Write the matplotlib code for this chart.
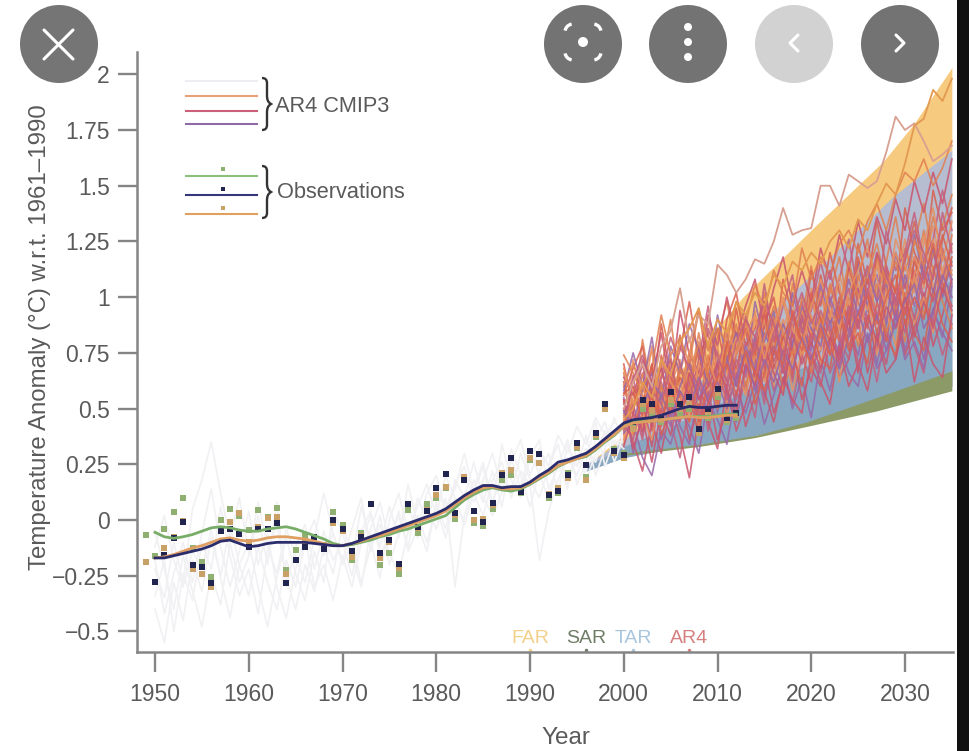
import matplotlib
matplotlib.use("Agg")
import matplotlib.pyplot as plt
from matplotlib.lines import Line2D
from matplotlib.patches import Arc, Circle, PathPatch, Rectangle
from matplotlib.path import Path
from matplotlib.transforms import Affine2D

plt.rcParams['font.family'] = ['Liberation Sans', 'DejaVu Sans']

y_ticks = [2, 1.75, 1.5, 1.25, 1, 0.75, 0.5, 0.25, 0, -0.25, -0.5]
y_labels = ['2', '1.75', '1.5', '1.25', '1', '0.75', '0.5', '0.25', '0', '\u22120.25', '\u22120.5']
x_ticks = [1950, 1960, 1970, 1980, 1990, 2000, 2010, 2020, 2030]

# projection envelopes
far_years = [1997, 2000, 2005, 2012.7, 2020.2, 2027.7, 2031, 2035]
far_upper = [0.28, 0.38, 0.62, 1.00, 1.31, 1.61, 1.78, 2.03]
far_lower = [0.24, 0.30, 0.40, 0.70, 1.00, 1.38, 1.50, 1.66]
tar_years = [1996, 2000, 2005, 2013, 2020, 2028.7, 2035]
tar_upper = [0.25, 0.36, 0.50, 0.82, 1.10, 1.45, 1.66]
tar_middle = [0.24, 0.33, 0.42, 0.58, 0.70, 0.90, 1.08]
tar_lower = [0.22, 0.28, 0.32, 0.37, 0.44, 0.53, 0.60]
sar_years = [2000, 2008, 2014, 2019.5, 2027, 2035]
sar_upper = [0.30, 0.34, 0.38, 0.44, 0.55, 0.67]
sar_lower = [0.29, 0.33, 0.37, 0.42, 0.49, 0.58]

hist_years = list(range(1950, 2001))
hist_01 = [-.22, -.35, -.10, -.28, .05, .18, .35, .12, -.08, .10, -.15, .02, -.20, .08, -.30, -.12, -.02, -.22, -.05, -.18, -.10, -.25, -.05, .04, -.15, -.08, .02, -.12, .10, .00, .14, .05, .16, .24, .08, .18, .30, .14, .26, .36, .20, .32, .24, .38, .30, .42, .34, .46, .38, .44, .40]
hist_02 = [-.40, -.55, -.28, -.45, -.18, -.32, -.08, -.25, -.02, -.20, -.34, -.12, -.28, -.40, -.18, -.30, -.10, .00, -.16, -.06, -.20, -.10, -.28, -.12, -.02, -.15, -.24, -.05, .02, -.10, .06, -.08, .10, -.02, .12, .02, .18, .26, .10, .22, .16, -.18, .04, .18, .28, .20, .32, .26, .40, .34, .36]
hist_03 = [-.12, .02, -.18, -.30, -.14, -.22, -.04, -.26, -.44, -.20, -.10, -.30, -.48, -.26, -.08, -.24, -.36, -.14, -.28, .04, -.06, -.18, .06, -.10, -.26, .00, .12, -.06, .06, .16, .02, .20, .10, -.02, .14, .26, .08, .20, .12, .30, .18, .10, .24, .34, .16, .28, .22, .36, .44, .30, .42]
hist_04 = [-.05, -.22, -.40, -.16, -.32, -.48, -.24, -.38, -.10, -.28, -.16, .08, -.12, -.24, -.04, -.16, -.28, -.08, .12, -.06, -.18, -.04, .10, -.14, .02, -.20, -.06, .08, -.08, .06, -.04, .10, -.30, .02, .18, .08, .22, .06, .28, .14, .32, .20, .10, .26, .14, .34, .18, .30, .40, .26, .38]
hist_05 = [-.34, -.18, -.50, -.24, -.36, -.10, -.22, .06, -.16, -.34, -.22, -.42, -.14, -.02, -.26, -.40, -.20, -.32, -.12, -.24, -.02, -.16, -.30, -.04, .08, -.10, .04, -.14, -.04, .12, .20, .04, .14, .30, .12, .24, .04, .34, .18, .10, .28, .36, .14, .24, .36, .16, .26, .44, .24, .36, .32]
hist_06 = [-.18, -.42, -.24, -.10, -.28, -.06, .14, -.12, -.30, -.14, .04, -.20, -.06, -.30, -.44, -.22, -.08, -.30, -.20, -.36, -.16, -.30, -.10, .02, -.12, .06, -.08, .16, -.02, -.14, .08, -.04, .18, .10, .26, .10, .02, .12, .32, .20, .06, .22, .30, .12, .34, .24, .38, .20, .32, .46, .34]

run_years = list(range(2000, 2036))
run_01 = [.46, .58, .42, .63, .49, .71, .55, .66, .50, .74, .61, .80, .66, .58, .83, .70, .92, .75, .88, .72, .99, .85, 1.05, .90, .82, 1.10, .95, 1.18, 1.02, .93, 1.22, 1.08, 1.30, 1.12, 1.02, 1.28]
run_02 = [.62, .40, .55, .33, .62, .47, .70, .58, .78, .52, .68, .60, .74, .85, .64, .92, .71, .83, .66, .90, .78, 1.02, .86, .74, .97, .88, 1.08, .92, .80, 1.05, .94, 1.12, .98, 1.20, 1.06, .96]
run_03 = [.38, .72, .50, .78, .60, .45, .66, .82, .58, .90, .70, .52, .77, .88, .68, .80, .60, .86, .98, .73, .84, 1.04, .80, .94, 1.12, .89, 1.00, 1.16, .90, 1.05, 1.26, 1.02, 1.14, 1.32, 1.10, 1.22]
run_04 = [.55, .30, .48, .58, .36, .55, .42, .34, .60, .48, .72, .56, .44, .68, .82, .55, .70, .60, .80, .93, .69, .76, .90, .68, .85, .74, .96, .70, .88, 1.00, .76, .92, .72, .95, .82, 1.05]
run_05 = [.70, .50, .66, .40, .74, .56, .83, .62, .48, .70, .86, .66, .95, .72, .60, .88, 1.00, .78, .64, .94, .82, 1.10, .92, .80, 1.14, .98, .86, 1.20, 1.04, .90, 1.16, 1.34, 1.10, .98, 1.26, 1.40]
run_06 = [.42, .65, .38, .52, .70, .44, .28, .52, .66, .40, .58, .74, .50, .62, .46, .76, .58, .68, .52, .74, .62, .84, .66, .78, .94, .70, .82, .62, .86, .72, .96, .78, .66, .90, .74, .88]
run_07 = [.60, .46, .81, .56, .68, .90, .60, .74, .95, .66, .82, .98, .76, .90, .70, 1.02, .84, .72, 1.06, .90, 1.14, .88, 1.02, 1.18, .94, 1.08, 1.26, 1.00, 1.16, 1.36, 1.12, 1.24, 1.42, 1.18, 1.32, 1.46]
run_08 = [.50, .35, .22, .44, .30, .52, .38, .19, .46, .58, .36, .50, .66, .42, .56, .70, .48, .62, .78, .54, .68, .60, .80, .64, .72, .90, .66, .84, .70, .94, .74, .86, 1.02, .78, .92, 1.08]
run_09 = [.34, .55, .64, .76, .48, .60, .72, .44, .68, .80, .54, .64, .86, .70, .94, .62, .78, .90, .70, .84, 1.04, .76, .92, 1.06, .84, .98, 1.14, .88, 1.02, 1.20, .96, 1.10, 1.28, 1.04, 1.18, 1.12]
run_10 = [.48, .44, .28, .20, .40, .34, .50, .42, .30, .54, .45, .34, .58, .48, .62, .43, .56, .70, .50, .64, .46, .72, .58, .80, .66, .60, .84, .68, .76, .92, .72, .80, .68, .94, .84, .76]
run_11 = [.56, .68, .78, .54, .88, .64, .76, .98, .72, .84, .62, .90, 1.02, .78, .86, .98, .74, 1.08, .92, .80, 1.12, .96, 1.20, 1.02, .90, 1.24, 1.06, 1.34, 1.14, 1.02, 1.40, 1.20, 1.10, 1.48, 1.30, 1.38]
run_12 = [.40, .52, .36, .68, .44, .60, .52, .72, .56, .44, .76, .62, .54, .80, .72, .52, .86, .74, .62, .92, .74, .66, .98, .82, .72, 1.04, .88, .76, 1.10, .94, .84, 1.18, 1.00, .88, 1.22, 1.06]
run_13 = [.66, .38, .60, .46, .56, .74, .46, .60, .84, .62, .50, .72, .84, .60, .76, .64, .82, .58, .72, .88, .66, .92, .74, .86, 1.00, .78, .90, 1.06, .84, .98, .80, 1.08, .92, 1.14, .98, .86]
run_14 = [.52, .48, .72, .62, .84, .58, .94, .74, .66, .92, .78, 1.00, .82, .96, 1.08, .86, 1.04, 1.18, .96, 1.12, .98, 1.22, 1.08, 1.28, 1.12, 1.34, 1.18, 1.36, 1.24, 1.44, 1.30, 1.52, 1.38, 1.56, 1.42, 1.62]
run_15 = [.36, .60, .46, .36, .58, .66, .48, .70, .42, .62, .78, .46, .68, .56, .74, .90, .64, .80, .58, .76, .92, .70, .84, .62, .90, .80, 1.02, .74, .94, .78, 1.08, .88, 1.00, .84, 1.12, .92]
run_16 = [.58, .75, .60, .82, .54, .78, .66, .88, .76, .60, .92, .72, .84, .66, .98, .80, .94, .68, 1.02, .86, .76, 1.06, .88, .98, .84, 1.16, .96, 1.10, .88, 1.20, 1.04, 1.28, 1.08, 1.22, 1.00, 1.16]
run_17 = [.44, .42, .52, .70, .38, .50, .64, .56, .38, .66, .52, .78, .60, .74, .52, .66, .90, .66, .76, .60, .86, .72, .68, .92, .76, .84, .70, .98, .82, .74, 1.02, .84, .76, 1.04, .88, .80]
run_18 = [.64, .56, .70, .48, .64, .82, .70, .54, .72, .96, .68, .84, .62, .92, .76, 1.06, .80, .96, 1.10, .84, .94, 1.16, .98, 1.08, 1.26, 1.02, 1.14, .98, 1.30, 1.12, 1.20, 1.38, 1.16, 1.26, 1.48, 1.30]
run_19 = [.47, .53, .60, .68, .92, .74, .82, .70, .94, .76, .86, .80, .98, .88, 1.06, .94, 1.12, 1.02, .96, 1.22, 1.08, 1.18, 1.10, 1.24, 1.30, 1.20, 1.34, 1.42, 1.30, 1.46, 1.56, 1.52, 1.62, 1.50, 1.58, 1.70]
run_20 = [.54, .32, .46, .26, .50, .38, .58, .36, .52, .44, .32, .60, .40, .52, .68, .58, .44, .64, .54, .48, .74, .62, .52, .78, .60, .70, .58, .82, .66, .72, .90, .62, .82, .70, .64, .92]
run_21 = [.50, .62, .70, .60, .78, .85, 1.04, .80, .92, .88, 1.145, 1.10, 1.02, 1.08, 1.17, 1.15, 1.25, 1.40, 1.28, 1.30, 1.31, 1.50, 1.50, 1.41, 1.55, 1.52, 1.49, 1.52, 1.65, 1.81, 1.75, 1.78, 1.70, 1.61, 1.64, 1.68]
run_22 = [.45, .50, .62, .55, .72, .65, .80, .86, .95, .78, .90, .84, .98, .92, 1.02, .96, 1.10, 1.05, 1.16, 1.12, 1.20, 1.15, 1.25, 1.30, 1.22, 1.35, 1.30, 1.42, 1.51, 1.46, 1.60, 1.77, 1.80, 1.93, 1.88, 1.98]
run_23 = [.68, .52, .60, .47, .66, .55, .62, .48, .70, .58, .74, .66, .82, .70, .90, .76, .86, .98, .82, .94, .84, 1.02, .90, 1.10, .96, 1.06, .94, 1.14, 1.04, 1.20, 1.08, 1.18, 1.04, 1.26, 1.12, 1.24]
run_24 = [.39, .44, .58, .66, .52, .42, .60, .70, .54, .64, .48, .72, .60, .78, .68, .84, .74, .88, .78, .96, .86, .78, 1.00, .88, 1.08, .92, 1.12, .98, 1.06, .90, 1.10, .96, 1.16, 1.02, 1.20, 1.08]
run_25 = [.57, .60, .50, .70, .42, .64, .56, .44, .62, .72, .56, .80, .68, .86, .74, .94, .68, .82, .92, .76, 1.02, .90, .80, 1.00, .88, 1.18, 1.00, .88, 1.12, 1.02, .92, 1.16, 1.06, 1.24, 1.02, 1.18]
run_26 = [.43, .36, .54, .44, .64, .72, .50, .62, .46, .56, .66, .54, .72, .64, .80, .70, .78, .66, .86, .98, .80, .94, .84, .70, .96, .86, 1.04, .90, 1.14, .96, 1.06, .90, 1.12, .98, 1.08, 1.24]
run_27 = [.74, .66, .56, .46, .60, .50, .68, .58, .80, .64, .50, .76, .88, .72, .62, .82, .96, .84, .74, 1.00, .90, .82, 1.06, .94, 1.16, 1.00, 1.10, 1.24, 1.06, 1.16, .98, 1.26, 1.14, 1.36, 1.20, 1.10]
run_28 = [.33, .48, .40, .58, .68, .52, .44, .66, .54, .60, .70, .58, .48, .70, .60, .78, .66, .56, .84, .70, .80, .68, .82, .72, .90, .66, .92, .80, .96, .86, 1.00, .82, .98, .86, 1.04, .94]
run_29 = [.61, .70, .60, .50, .72, .62, .52, .76, .64, .72, .60, .86, .74, .84, .92, .72, .88, 1.00, .86, .78, .96, 1.08, .94, .86, 1.02, 1.12, 1.22, 1.08, .96, 1.26, 1.14, 1.04, 1.24, 1.40, 1.16, 1.34]
run_30 = [.49, .41, .50, .62, .56, .46, .58, .50, .64, .54, .62, .50, .64, .76, .58, .72, .62, .76, .68, .82, .72, .88, .76, .68, .82, .94, .80, .92, .76, .88, .98, 1.06, .86, .94, 1.10, 1.00]
run_31 = [.53, .57, .47, .55, .44, .58, .48, .58, .44, .52, .64, .70, .56, .76, .66, .58, .76, .70, .94, .80, .70, .86, .74, .96, .78, .92, 1.02, .84, 1.00, 1.10, .88, 1.00, .90, 1.10, 1.28, 1.14]
run_32 = [.41, .63, .74, .58, .52, .68, .78, .68, .60, .86, .74, .62, .80, .90, .82, .98, .88, .74, .90, 1.02, .88, .98, 1.12, .92, 1.04, .86, 1.02, 1.20, 1.10, .98, 1.18, 1.30, 1.20, 1.08, 1.38, 1.20]

obs_years = list(range(1950, 2013))
smooth_blue = [-.17, -.17, -.16, -.15, -.14, -.13, -.115, -.095, -.09, -.105, -.12, -.115, -.105, -.10, -.10, -.10, -.10, -.105, -.11, -.115, -.115, -.105, -.09, -.075, -.06, -.045, -.03, -.015, .00, .015, .03, .05, .08, .11, .135, .155, .155, .145, .15, .15, .17, .20, .225, .26, .27, .285, .30, .33, .365, .40, .435, .45, .455, .46, .47, .485, .50, .51, .505, .505, .51, .515, .515]
smooth_orange = [-.17, -.165, -.155, -.14, -.125, -.115, -.10, -.085, -.08, -.09, -.095, -.09, -.08, -.075, -.075, -.08, -.085, -.095, -.105, -.115, -.115, -.105, -.095, -.08, -.07, -.055, -.04, -.025, -.01, .005, .02, .04, .07, .10, .125, .145, .15, .14, .14, .145, .165, .19, .215, .245, .26, .275, .29, .32, .355, .385, .42, .435, .44, .445, .45, .455, .46, .465, .46, .46, .465, .47, .47]
smooth_green = [-.055, -.075, -.082, -.075, -.065, -.05, -.035, -.03, -.035, -.045, -.05, -.05, -.04, -.035, -.03, -.04, -.055, -.07, -.085, -.105, -.115, -.11, -.10, -.09, -.075, -.065, -.05, -.04, -.025, -.01, .005, .02, .055, .09, .115, .135, .145, .135, .13, .14, .16, .185, .21, .24, .26, .275, .285, .315, .35, .38, .42, .44, .445, .445, .45, .455, .46, .465, .465, .465, .47, .475, .475]

dot_years_dark = list(range(1950, 2013))
dots_dark = [-.276, -.157, -.08, -.01, -.2, -.21, -.284, -.05, -.04, -.064, -.12, -.04, -.04, -.015, -.284, -.18, -.12, -.075, -.13, .0, -.04, -.14, -.075, .07, -.15, -.09, -.195, .07, -.03, .04, .146, .206, .03, .18, .04, -.007, .075, .2, .277, .127, .31, .295, .112, .13, .2, .344, .247, .389, .52, .31, .29, .44, .54, .52, .46, .575, .52, .55, .41, .5, .59, .46, .48]
dot_years_obs = list(range(1949, 2013))
dots_green = [-.067, -.16, -.04, .037, .10, -.127, -.187, -.255, .0, .05, .02, -.045, .045, .015, .055, -.224, -.135, -.07, -.075, -.11, .035, -.02, -.18, -.06, .07, -.2, -.15, -.24, .045, -.06, .07, .097, .142, .003, .178, -.015, -.027, .05, .18, .202, .12, .27, .257, .1, .12, .21, .322, .195, .374, .516, .32, .30, .42, .50, .47, .44, .52, .48, .50, .40, .46, .55, .44, .46]
dots_orange = [-.19, -.276, -.127, -.075, -.005, -.22, -.24, -.30, -.05, -.007, .03, -.097, -.03, .007, .015, -.24, -.18, -.105, -.09, -.127, -.015, -.05, -.165, -.07, .07, -.17, -.098, -.217, .07, -.037, .045, .112, .15, .022, .194, -.0, .003, .068, .21, .225, .142, .28, .257, .117, .142, .19, .326, .18, .38, .50, .30, .28, .41, .52, .49, .45, .54, .50, .52, .39, .47, .57, .45, .47]

report_names = ['FAR', 'SAR', 'TAR', 'AR4']
report_years = [1990, 1996, 2001, 2007]

fig = plt.figure(figsize=(9.69, 7.51), dpi=100)
ax = fig.add_axes([137 / 969, 1 - 652 / 751, (953 - 137) / 969, (652 - 52) / 751])
ax.set_xlim(1948.08, 2035.12)
ax.set_ylim(-0.592, 2.10)

ax.fill_between(far_years, far_lower, far_upper, color='#f6cb80', lw=0, zorder=1)
ax.fill_between(tar_years, tar_lower, tar_upper, color='#b6bdd0', lw=0, zorder=1.5)
ax.fill_between(tar_years, tar_lower, tar_middle, color='#88a8c2', lw=0, zorder=1.6)
ax.fill_between(sar_years, sar_lower, sar_upper, color='#8c9a68', lw=0, zorder=2)

for series in [hist_01, hist_02, hist_03, hist_04, hist_05, hist_06]:
    ax.plot(hist_years, series, color='#f1f1f4', lw=1.2, zorder=2.5)

run_colors = ['#e07f50', '#c9556e', '#e89060', '#9868a8', '#d9604f', '#c4607e']
all_runs = [run_01, run_02, run_03, run_04, run_05, run_06, run_07, run_08, run_09, run_10, run_11,
            run_12, run_13, run_14, run_15, run_16, run_17, run_18, run_19, run_20, run_23, run_24,
            run_25, run_26, run_27, run_28, run_29, run_30, run_31, run_32]
for i, series in enumerate(all_runs):
    ax.plot(run_years, series, color=run_colors[i % len(run_colors)], lw=1.25, alpha=0.85, zorder=3)
ax.plot(run_years, run_21, color='#d8a090', lw=1.3, zorder=3)
ax.plot(run_years, run_22, color='#e39a50', lw=1.3, zorder=3)

ax.plot(dot_years_obs, dots_green, 's', color='#8fb070', ms=4.2, mew=0, zorder=4)
ax.plot(dot_years_obs, dots_orange, 's', color='#c9a066', ms=4.2, mew=0, zorder=4.1)
ax.plot(dot_years_dark, dots_dark, 's', color='#20244f', ms=4, mew=0, zorder=4.2)

ax.plot(obs_years, smooth_green, color='#78ad68', lw=2, zorder=5)
ax.plot(obs_years, smooth_orange, color='#df9f62', lw=2, zorder=5.1)
ax.plot(obs_years, smooth_blue, color='#2b2c6c', lw=2, zorder=5.2)

for name, year, c in zip(report_names, report_years, ['#f3d08a', '#6f7d66', '#aac6dd', '#d67f7f']):
    ax.text(year, -0.53, name, color=c, fontsize=14, ha='center', va='center')
    ax.plot([year], [-0.585], '.', color=c, ms=3, clip_on=False)

ax.spines['top'].set_visible(False)
ax.spines['right'].set_visible(False)
for side in ['left', 'bottom']:
    ax.spines[side].set_color('#858585')
    ax.spines[side].set_linewidth(1.8)
ax.set_yticks(y_ticks)
ax.set_yticklabels(y_labels)
ax.set_xticks(x_ticks)
ax.tick_params(axis='x', length=14.5, width=1.7, color='#858585', labelcolor='#5a5a5a', labelsize=16.5, pad=8)
ax.tick_params(axis='y', length=14, width=1.7, color='#858585', labelcolor='#5a5a5a', labelsize=16.5, pad=5.5)
fig.text(40 / 969, 1 - 337 / 751, 'Temperature Anomaly (\u00b0C) w.r.t. 1961\u20131990', rotation=90,
         ha='center', va='center', fontsize=17.3, color='#5a5a5a')
fig.text(566 / 969, 1 - 738 / 751, 'Year', ha='center', va='center', fontsize=17.5, color='#5a5a5a')

# everything below is placed in image pixels, y downwards
pix = Affine2D().scale(1, -1).translate(0, 751)
for y, c in [(81, '#eeeef2'), (96, '#e8a27a'), (111, '#cc6078'), (124, '#8f6aa8'),
             (176, '#8cc07a'), (195, '#34357a'), (214, '#e0a060')]:
    fig.add_artist(Line2D([186, 257], [y, y], transform=pix, color=c, lw=1.5))
for y, c in [(169, '#8fb070'), (189, '#20244f'), (208, '#c9a066')]:
    fig.add_artist(Line2D([223], [y], transform=pix, marker='s', ms=3.4, mew=0, color=c))


def brace(x, y0, y1):
    ym = (y0 + y1) / 2
    verts = [(x - 3, y0), (x + 2, y0), (x + 2, y0 + 5), (x + 2, ym - 8), (x + 2, ym - 2), (x + 6, ym),
             (x + 2, ym + 2), (x + 2, ym + 8), (x + 2, y1 - 5), (x + 2, y1), (x - 3, y1)]
    codes = [Path.MOVETO] + [Path.CURVE3] * 2 + [Path.LINETO] + [Path.CURVE3] * 2 + [Path.CURVE3] * 2 + \
        [Path.LINETO] + [Path.CURVE3] * 2
    fig.add_artist(PathPatch(Path(verts, codes), transform=pix, fill=False, ec='#333333', lw=1.7))


brace(265, 78, 130)
brace(265, 166, 218)
fig.text(275 / 969, 1 - 106 / 751, 'AR4 CMIP3', va='center', fontsize=15.7, color='#5a5a5a')
fig.text(277 / 969, 1 - 192 / 751, 'Observations', va='center', fontsize=15.7, color='#5a5a5a')

# viewer overlay
fig.add_artist(Rectangle((957, 0), 12, 751, transform=pix, color='#101010', lw=0))
for cx, c in [(59, '#757575'), (583, '#737373'), (688, '#737373'), (794, '#d2d2d2'), (900, '#737373')]:
    fig.add_artist(Circle((cx, 44), 39, transform=pix, color=c, lw=0, zorder=10))
icons = dict(color='white', lw=2.2, transform=pix, zorder=11, solid_capstyle='round')
fig.add_artist(Line2D([44, 73], [30, 59], **icons))
fig.add_artist(Line2D([44, 73], [59, 30], **icons))
fig.add_artist(Line2D([798, 790, 798], [35, 43, 51], **icons))
fig.add_artist(Line2D([896, 904, 896], [35, 43, 51], **icons))
for y in [27, 42, 57]:
    fig.add_artist(Circle((688, y), 4, transform=pix, color='white', lw=0, zorder=11))
fig.add_artist(Circle((583, 42), 5, transform=pix, color='white', lw=0, zorder=11))
for (bx, by), a in zip([(573, 32), (593, 32), (573, 52), (593, 52)], [180, 270, 90, 0]):
    fig.add_artist(Arc((bx, by), 16, 16, theta1=a + 10, theta2=a + 80, transform=pix, color='white', lw=2.4, zorder=11))

fig.savefig('out.png', dpi=100)
